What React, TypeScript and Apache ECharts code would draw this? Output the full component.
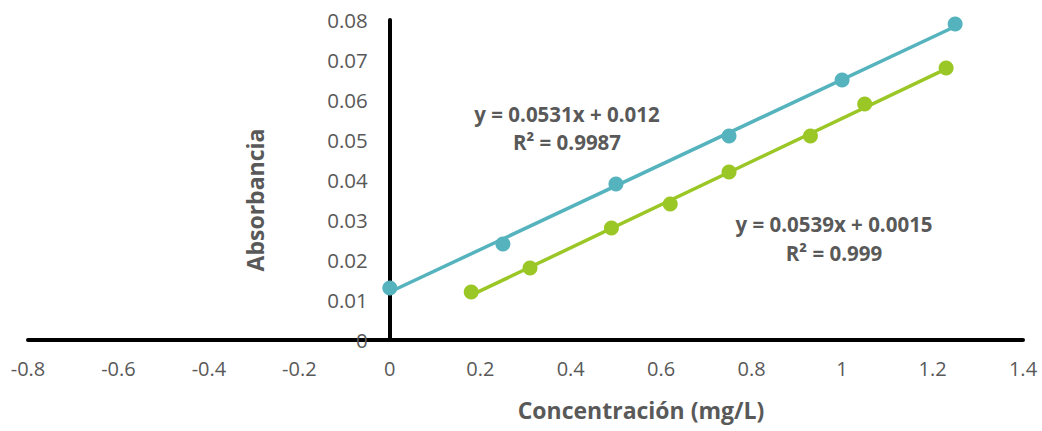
import React, { useEffect, useRef } from "react";
import * as echarts from "echarts";

const xTickMin = -0.8;
const xTickMax = 1.4;
const yTickMax = 0.08;

const tealX = [0, 0.25, 0.5, 0.75, 1.0, 1.25];
const tealY = [0.013, 0.024, 0.039, 0.051, 0.065, 0.079];
const greenX = [0.18, 0.31, 0.49, 0.62, 0.75, 0.93, 1.05, 1.23];
const greenY = [0.012, 0.018, 0.028, 0.034, 0.042, 0.051, 0.059, 0.068];

// trendline coefficients [slope, intercept] as shown in the chart
const tealFit = [0.0531, 0.012];
const greenFit = [0.0539, 0.0015];

const tealColor = "#55B3BE";
const greenColor = "#9BC726";
const textColor = "#595959";
const FONT = "'Open Sans', sans-serif";

const W = 1042;
const H = 431;
const GRID_LEFT = 28;
const GRID_RIGHT = 19;
const plotW = W - GRID_LEFT - GRID_RIGHT;
const yAxisOffset = -((0 - xTickMin) / (xTickMax - xTickMin)) * plotW;

function fitLine(xs: number[], fit: number[]) {
  const x0 = Math.min(...xs);
  const x1 = Math.max(...xs);
  return [
    [x0, fit[0] * x0 + fit[1]],
    [x1, fit[0] * x1 + fit[1]],
  ];
}

function label(text: string, x: number, y: number, size: number, rotation = 0) {
  return {
    type: "text",
    x,
    y,
    rotation,
    style: {
      text,
      fill: textColor,
      font: `bold ${size}px ${FONT}`,
      textAlign: "center",
      textVerticalAlign: "middle",
    },
  };
}

export default function App() {
  const ref = useRef<HTMLDivElement>(null);
  useEffect(() => {
    if (!ref.current) return;
    const chart = echarts.init(ref.current, null, { renderer: "svg" });
    chart.setOption({
      animation: false,
      grid: {
        left: GRID_LEFT,
        right: GRID_RIGHT,
        top: 20,
        bottom: 91,
        containLabel: false,
        outerBoundsMode: "none",
      },
      xAxis: {
        type: "value",
        min: xTickMin,
        max: xTickMax,
        interval: 0.2,
        axisLine: { onZero: true, lineStyle: { color: "#000", width: 4 } },
        axisTick: { show: false },
        splitLine: { show: false },
        axisLabel: {
          color: textColor,
          fontFamily: FONT,
          fontSize: 20,
          margin: 18,
          formatter: (v: number) => String(+v.toFixed(1)),
        },
      },
      yAxis: {
        type: "value",
        min: 0,
        max: yTickMax,
        interval: 0.01,
        offset: yAxisOffset,
        axisLine: { show: true, onZero: false, lineStyle: { color: "#000", width: 4 } },
        axisTick: { show: false },
        splitLine: { show: false },
        axisLabel: {
          color: textColor,
          fontFamily: FONT,
          fontSize: 20.5,
          margin: 22,
          formatter: (v: number) => (v === 0 ? "0" : v.toFixed(2)),
        },
      },
      graphic: [
        label("Concentración (mg/L)", 641, 410, 23),
        label("Absorbancia", 255, 200, 23, Math.PI / 2),
        label("y = 0.0531x + 0.012", 567, 114, 20.5),
        label("R² = 0.9987", 567, 142, 20.5),
        label("y = 0.0539x + 0.0015", 834, 224, 20.5),
        label("R² = 0.999", 834, 253, 20.5),
      ],
      series: [
        {
          type: "line",
          data: fitLine(tealX, tealFit),
          showSymbol: false,
          lineStyle: { color: tealColor, width: 3.5 },
          z: 2,
        },
        {
          type: "line",
          data: fitLine(greenX, greenFit),
          showSymbol: false,
          lineStyle: { color: greenColor, width: 3.5 },
          z: 2,
        },
        {
          type: "scatter",
          data: tealX.map((x, i) => [x, tealY[i]]),
          symbolSize: 15,
          itemStyle: { color: tealColor, opacity: 1 },
          z: 3,
        },
        {
          type: "scatter",
          data: greenX.map((x, i) => [x, greenY[i]]),
          symbolSize: 15,
          itemStyle: { color: greenColor, opacity: 1 },
          z: 3,
        },
      ],
    });
    return () => chart.dispose();
  }, []);
  return <div ref={ref} style={{ width: W, height: H, position: "absolute", left: 0, top: 0 }} />;
}
